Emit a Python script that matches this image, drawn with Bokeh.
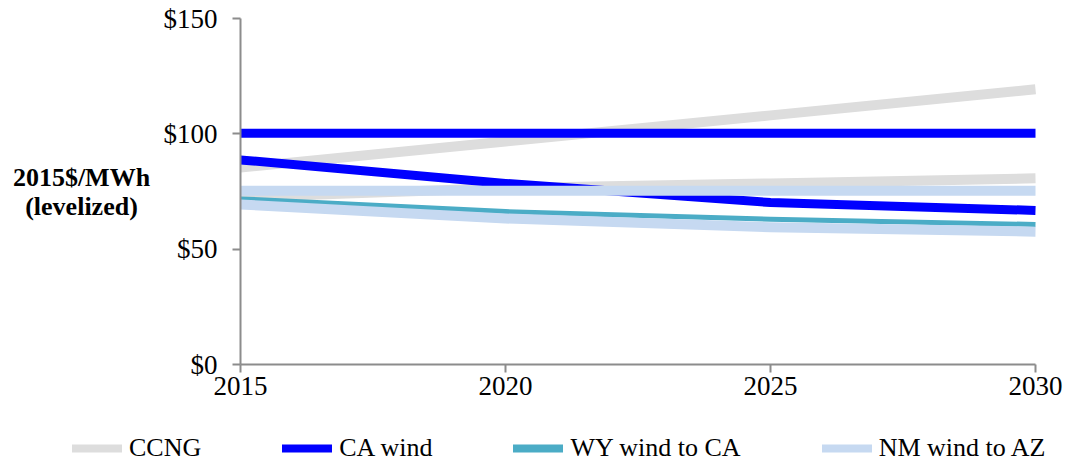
from bokeh.plotting import figure
from bokeh.models import Range1d, FixedTicker, NumeralTickFormatter, Legend, LegendItem, Label
from bokeh.embed import file_html
from bokeh.resources import INLINE

# ---- data ----
years = [2015, 2020, 2025, 2030]
ccng_high = [85.4, 96.7, 108.0, 119.3]
ccng_low = [72.5, 76.5, 78.5, 80.7]
ca_wind_high = [100.3, 100.3, 100.3, 100.3]
ca_wind_low = [88.7, 78.5, 70.2, 66.8]
wy_wind_to_ca = [71.8, 66.3, 63.0, 60.7]
nm_wind_to_az_high = [75.3, 75.3, 75.3, 75.3]
nm_wind_to_az_low = [69.4, 63.3, 59.5, 57.6]

y_ticks = [0, 50, 100, 150]
x_ticks = [2015, 2020, 2025, 2030]
y_title_lines = ["2015$/MWh", "(levelized)"]
series_names = ["CCNG", "CA wind", "WY wind to CA", "NM wind to AZ"]

FONT = "Liberation Serif"
GRAY = "#DDDDDD"
BLUE = "#0000FF"
TEAL = "#4BACC6"
LIGHTBLUE = "#C6D9F1"
AXIS = "#8C8C8C"

W, H = 1065, 461
# frame = whole canvas; axes are pinned inside it
X0, X1 = 2015, 2030
PX_LEFT, PX_RIGHT = 240, 1035
PY_TOP, PY_BOTTOM = 18, 364
xs = (PX_RIGHT - PX_LEFT) / (X1 - X0)
ys = (PY_BOTTOM - PY_TOP) / 150.0
x_range = Range1d(X0 - PX_LEFT / xs, X1 + (W - PX_RIGHT) / xs)
y_range = Range1d(0 - (H - PY_BOTTOM) / ys, 150 + PY_TOP / ys)

p = figure(width=W, height=H, x_range=x_range, y_range=y_range,
           output_backend="svg", toolbar_location=None,
           min_border_left=0, min_border_right=0,
           min_border_top=0, min_border_bottom=0)
p.xgrid.visible = False
p.ygrid.visible = False
p.outline_line_color = None
p.background_fill_color = "white"
p.border_fill_color = "white"

for ax, ticks in ((p.xaxis[0], x_ticks), (p.yaxis[0], y_ticks)):
    ax.ticker = FixedTicker(ticks=ticks)
    ax.axis_line_color = AXIS
    ax.axis_line_width = 2
    ax.major_tick_line_color = AXIS
    ax.major_tick_line_width = 2
    ax.major_tick_in = 0
    ax.major_tick_out = 8
    ax.minor_tick_line_color = None
    ax.major_label_text_font = FONT
    ax.major_label_text_font_size = "27px"
    ax.major_label_text_color = "black"

p.xaxis[0].fixed_location = 0
p.xaxis[0].bounds = (X0, X1)
p.xaxis[0].major_label_standoff = 4
p.yaxis[0].fixed_location = X0
p.yaxis[0].bounds = (0, 150)
p.yaxis[0].formatter = NumeralTickFormatter(format="$0")
p.yaxis[0].major_label_standoff = 15

kw = dict(line_cap="butt", line_join="round")
p.line(years, ccng_high, line_color=GRAY, line_width=10, **kw)
p.line(years, ccng_low, line_color=GRAY, line_width=10, **kw)
p.line(years, ca_wind_high, line_color=BLUE, line_width=9, **kw)
p.line(years, ca_wind_low, line_color=BLUE, line_width=9, **kw)
p.line(years, wy_wind_to_ca, line_color=TEAL, line_width=5, **kw)
p.line(years, nm_wind_to_az_high, line_color=LIGHTBLUE, line_width=10, **kw)
p.line(years, nm_wind_to_az_low, line_color=LIGHTBLUE, line_width=10, **kw)

# legend keys: hidden copies of the series, styled like the reference's legend
items = []
for name, col, vals in zip(series_names, [GRAY, BLUE, TEAL, LIGHTBLUE],
                           [ccng_high, ca_wind_low, wy_wind_to_ca, nm_wind_to_az_low]):
    r = p.line(years, vals, line_color=col, line_width=8, line_cap="round", visible=False)
    items.append(LegendItem(label=name, renderers=[r]))

legend = Legend(items=items, orientation="horizontal", location=(72, -2),
                click_policy="none")
legend.label_text_font = FONT
legend.label_text_font_size = "26px"
legend.label_text_color = "black"
legend.glyph_width = 50
legend.glyph_height = 26
legend.label_height = 26
legend.label_standoff = 7
legend.spacing = 81
legend.padding = 0
legend.margin = 0
legend.border_line_color = None
legend.background_fill_alpha = 0
p.add_layout(legend)

# y title (two centred lines), placed in data space left of the axis
title_x = X0 - (PX_LEFT - 81) / xs
for txt, py in zip(y_title_lines, (177, 206)):
    p.add_layout(Label(x=title_x, y=150 - (py - PY_TOP) / ys, text=txt,
                       text_align="center", text_baseline="middle",
                       text_font=FONT, text_font_size="26px",
                       text_font_style="bold", text_color="black"))

open("out.html", "w").write(file_html(p, INLINE))
